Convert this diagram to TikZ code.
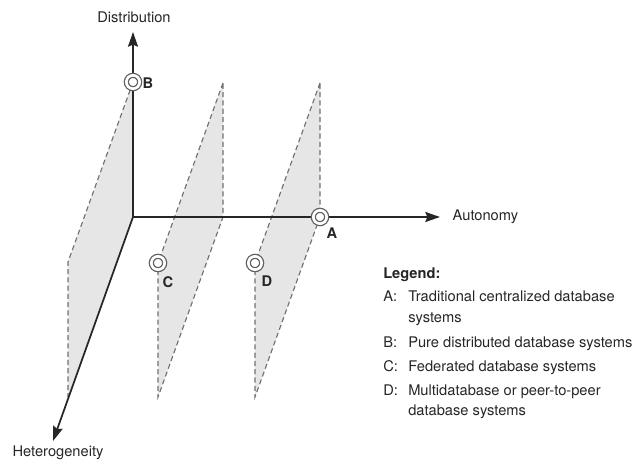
\documentclass[tikz,border=0pt]{standalone}
\usepackage{fontspec}
\setmainfont{TeX Gyre Heros}
\usetikzlibrary{arrows.meta}
\definecolor{planegray}{HTML}{E6E6E6}
\definecolor{dashgray}{HTML}{707070}
\definecolor{ringgray}{HTML}{606060}
\definecolor{inkgray}{HTML}{262626}
\tikzset{
  axis/.style={draw=inkgray, line width=1.3pt, -{Stealth[length=11pt,width=7.5pt,inset=1.5pt]}},
  plane/.style={fill=planegray, draw=none},
  edge/.style={draw=dashgray, line width=0.85pt, dash pattern={on 3.8pt off 2.4pt}},
  ring/.style={circle, draw=ringgray, line width=0.95pt, double=white, double distance=2pt, fill=white, inner sep=0pt, minimum size=10pt},
  axislabel/.style={font=\fontsize{11}{13}\selectfont, text=inkgray},
  pointlabel/.style={font=\fontsize{11}{13}\selectfont\bfseries, text=inkgray},
  legendtext/.style={font=\fontsize{11}{13}\selectfont, text=inkgray, anchor=base west, inner sep=0pt},
}
\begin{document}
\begin{tikzpicture}[x=0.75pt,y=0.75pt,yscale=-1]
  \useasboundingbox (0,0) rectangle (640,475);
  % corners of the planes
  \coordinate (O) at (133,217);
  \coordinate (ptB) at (133,82);
  \coordinate (leftB) at (68,262);
  \coordinate (lowB) at (68,397);
  \coordinate (topC) at (223,83);
  \coordinate (midC) at (223,217);
  \coordinate (ptC) at (158,263);
  \coordinate (lowC) at (158,397);
  \coordinate (topD) at (320,83);
  \coordinate (ptA) at (320,217);
  \coordinate (ptD) at (255,263);
  \coordinate (lowD) at (255,397);
  % axis ends
  \coordinate (distEnd) at (133,32);
  \coordinate (autoEnd) at (440,217);
  \coordinate (hetEnd) at (53,441);

  \fill[plane] (ptB) -- (O) -- (lowB) -- (leftB) -- cycle;
  \fill[plane] (topC) -- (midC) -- (lowC) -- (ptC) -- cycle;
  \fill[plane] (topD) -- (ptA) -- (lowD) -- (ptD) -- cycle;
  \draw[edge] (ptB) -- (leftB) -- (lowB);
  \draw[edge] (topC) -- (ptC) -- (lowC) -- (midC) -- cycle;
  \draw[edge] (topD) -- (ptD) -- (lowD) -- (ptA) -- cycle;

  \draw[axis] (O) -- (distEnd);
  \draw[axis] (O) -- (autoEnd);
  \draw[axis] (O) -- (hetEnd);
  \node[axislabel] (distLabel) at (134,17) {Distribution};
  \node[axislabel, anchor=west] (autoLabel) at (448,217) {Autonomy};
  \node[axislabel] (hetLabel) at (58,453) {Heterogeneity};

  \node[ring] (A) at (ptA) {};
  \node[ring] (B) at (ptB) {};
  \node[ring] (C) at (ptC) {};
  \node[ring] (D) at (ptD) {};
  \node[pointlabel] (labelA) at (332,233) {A};
  \node[pointlabel] (labelB) at (148,83) {B};
  \node[pointlabel] (labelC) at (168,282) {C};
  \node[pointlabel] (labelD) at (267,281) {D};

  % legend
  \node[legendtext, font=\fontsize{11}{13}\selectfont\bfseries] (legendHead) at (383,278) {Legend:};
  \node[legendtext] (keyA) at (383,301) {A:};
  \node[legendtext] (textA) at (408,301) {Traditional centralized database};
  \node[legendtext] (textA2) at (408,322) {systems};
  \node[legendtext] (keyB) at (383,347) {B:};
  \node[legendtext] (textB) at (408,347) {Pure distributed database systems};
  \node[legendtext] (keyC) at (383,371) {C:};
  \node[legendtext] (textC) at (408,371) {Federated database systems};
  \node[legendtext] (keyD) at (383,395) {D:};
  \node[legendtext] (textD) at (408,395) {Multidatabase or peer-to-peer};
  \node[legendtext] (textD2) at (408,415) {database systems};
\end{tikzpicture}
\end{document}
